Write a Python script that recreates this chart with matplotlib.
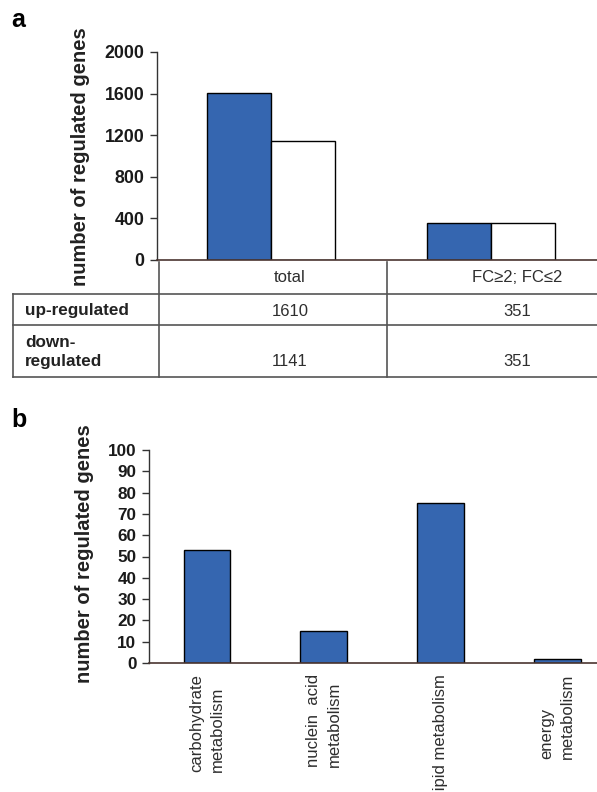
import matplotlib
matplotlib.use('Agg')
import matplotlib.pyplot as plt
import numpy as np

plt.rcParams['font.family'] = ['Liberation Sans', 'DejaVu Sans']

# panel a data
groups_a = ['total', 'FC≥2; FC≤2']
up_reg = [1610, 351]
down_reg = [1141, 351]
row_labels = ['up-regulated', 'down-\nregulated']
yticks_a = [0, 400, 800, 1200, 1600, 2000]

# panel b data
cats_b = ['carbohydrate\nmetabolism', 'nuclein  acid\nmetabolism', 'lipid metabolism', 'energy\nmetabolism']
vals_b = [53, 15, 75, 2]
yticks_b = list(range(0, 101, 10))

W, H = 597, 792
blue = '#3566b0'
spine_col = '#333333'
base_col = '#4a3530'
line_col = '#555555'
txt_col = '#2e2e2e'

fig = plt.figure(figsize=(W / 100, H / 100), dpi=100)
fig.patch.set_facecolor('white')


def rect(x0, y0, x1, y1):
    # pixel box (top-left origin) -> figure fraction
    return [x0 / W, 1 - y1 / H, (x1 - x0) / W, (y1 - y0) / H]


def style(ax, col_left):
    for s in ['top', 'right']:
        ax.spines[s].set_visible(False)
    ax.spines['left'].set_color(col_left)
    ax.spines['bottom'].set_color(base_col)
    ax.spines['left'].set_linewidth(1.0)
    ax.spines['bottom'].set_linewidth(1.2)
    ax.tick_params(axis='y', length=5, width=1.0, color=spine_col, pad=4, labelcolor='#1a1a1a')
    for lab in ax.get_yticklabels():
        lab.set_fontweight('bold')
    ax.set_facecolor('none')


# ---- panel a
ax1 = fig.add_axes(rect(157, 52, 597, 260))
x = np.arange(len(groups_a))
bw = 0.29
ax1.bar(x - bw / 2, up_reg, bw, color=blue, edgecolor='black', linewidth=1.0)
ax1.bar(x + bw / 2, down_reg, bw, color='white', edgecolor='black', linewidth=1.0)
ax1.set_xlim(-0.518, 1.482)
ax1.set_ylim(0, 2000)
ax1.set_yticks(yticks_a)
ax1.set_yticklabels([str(t) for t in yticks_a], fontsize=12.8)
ax1.set_xticks([])
style(ax1, spine_col)
fig.text(81 / W, 1 - 157 / H, 'number of regulated genes', rotation=90, fontsize=14.5,
         fontweight='bold', ha='center', va='center', color='#222222')
fig.text(11 / W, 1 - 20 / H, 'a', fontsize=18, fontweight='bold', ha='left', va='center')

# table under panel a (pixel overlay)
axt = fig.add_axes([0, 0, 1, 1])
axt.set_xlim(0, W)
axt.set_ylim(H, 0)
axt.axis('off')
axt.patch.set_alpha(0)
lw = 1.2
for yy in [294, 325, 377]:
    axt.plot([13, W], [yy, yy], color=line_col, lw=lw)
axt.plot([13, 13], [294, 377], color=line_col, lw=lw)
axt.plot([159, 159], [262, 377], color=line_col, lw=lw)
axt.plot([387, 387], [262, 377], color=line_col, lw=lw)

col_x = [290, 517]
for cx, g in zip(col_x, groups_a):
    axt.text(cx, 278, g, ha='center', va='center', fontsize=12, color=txt_col)
for cx, v in zip(col_x, up_reg):
    axt.text(cx, 311, str(v), ha='center', va='center', fontsize=12, color=txt_col)
for cx, v in zip(col_x, down_reg):
    axt.text(cx, 362, str(v), ha='center', va='center', fontsize=12, color=txt_col)
axt.text(25, 311, row_labels[0], ha='left', va='center', fontsize=12.3, fontweight='bold', color='#222222')
axt.text(25, 352, row_labels[1], ha='left', va='center', fontsize=12.3, fontweight='bold',
         color='#222222', linespacing=1.3)

# ---- panel b
ax2 = fig.add_axes(rect(149, 450, 597, 663))
xb = np.arange(len(cats_b))
ax2.bar(xb, vals_b, 0.40, color=blue, edgecolor='black', linewidth=1.0)
ax2.set_xlim(-0.497, 3.34)
ax2.set_ylim(0, 100)
ax2.set_yticks(yticks_b)
ax2.set_yticklabels([str(t) for t in yticks_b], fontsize=12.3)
ax2.set_xticks(xb)
ax2.set_xticklabels(cats_b, rotation=90, fontsize=12, color=txt_col,
                    va='top', ha='center', multialignment='left', linespacing=1.45)
ax2.tick_params(axis='x', length=0, pad=8)
style(ax2, spine_col)
fig.text(84 / W, 1 - 554 / H, 'number of regulated genes', rotation=90, fontsize=14.5,
         fontweight='bold', ha='center', va='center', color='#222222')
fig.text(11 / W, 1 - 420 / H, 'b', fontsize=18, fontweight='bold', ha='left', va='center')

fig.savefig('out.png', dpi=100)
